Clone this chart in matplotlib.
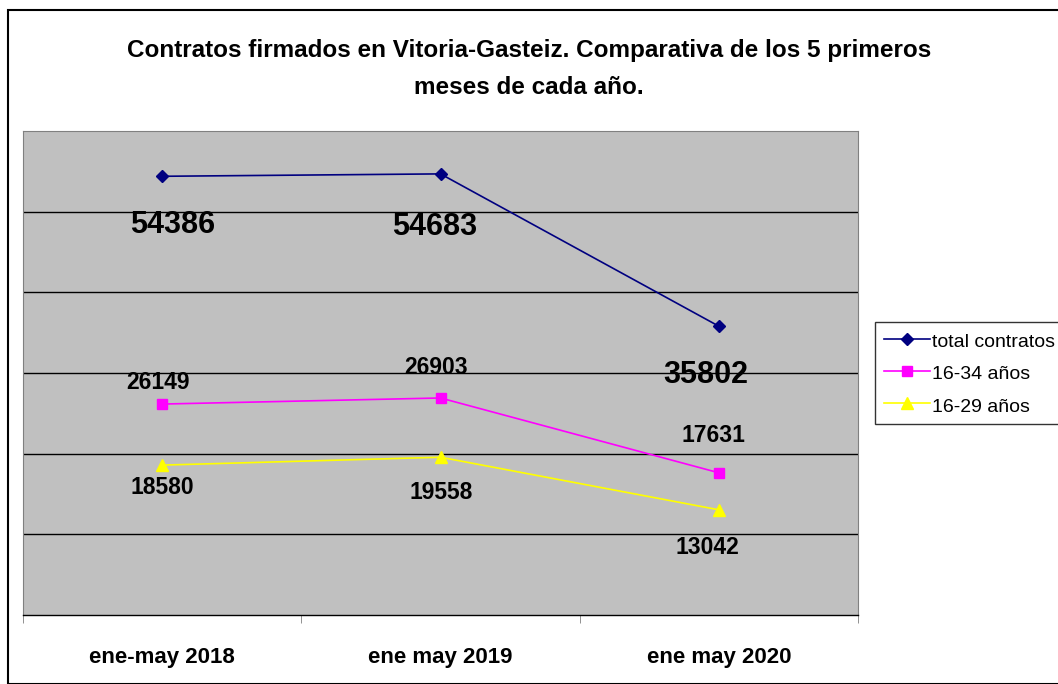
import matplotlib.pyplot as plt
from matplotlib.patches import Rectangle

periodos = ["ene-may 2018", "ene may 2019", "ene may 2020"]
total_contratos = [54386, 54683, 35802]
edad_16_34 = [26149, 26903, 17631]
edad_16_29 = [18580, 19558, 13042]

plt.rcParams['font.family'] = ['Liberation Sans', 'DejaVu Sans']

fig = plt.figure(figsize=(10.58, 6.84), dpi=100)
fig.patches.append(Rectangle((8 / 1058, 0), 1.2, 1 - 10 / 684, transform=fig.transFigure,
                             fill=False, edgecolor='black', linewidth=1.5))

ax = fig.add_axes([23 / 1058, 1 - 615 / 684, (858 - 23) / 1058, (615 - 131) / 684])
ax.set_facecolor('#C0C0C0')

x = range(len(periodos))
ax.plot(x, total_contratos, color='#000080', marker='D', markersize=6, linewidth=1.2,
        label='total contratos')
ax.plot(x, edad_16_34, color='#FF00FF', marker='s', markersize=7, linewidth=1.2,
        label='16-34 años')
ax.plot(x, edad_16_29, color='#FFFF00', marker='^', markersize=8, linewidth=1.2,
        label='16-29 años')

# etiquetas de datos (desplazamiento en pixeles)
big = [(10, -49), (-6, -53), (-13, -49)]
for i, v in enumerate(total_contratos):
    ax.annotate(str(v), (i, v), xytext=big[i], textcoords='offset pixels',
                ha='center', va='center', fontsize=22, fontweight='bold')
off34 = [(-4, 22), (-4, 30), (-5, 37)]
for i, v in enumerate(edad_16_34):
    ax.annotate(str(v), (i, v), xytext=off34[i], textcoords='offset pixels',
                ha='center', va='center', fontsize=16.5, fontweight='bold')
off29 = [(0, -22), (1, -35), (-11, -38)]
for i, v in enumerate(edad_16_29):
    ax.annotate(str(v), (i, v), xytext=off29[i], textcoords='offset pixels',
                ha='center', va='center', fontsize=16.5, fontweight='bold')

ax.set_xlim(-0.5, 2.5)
ax.set_ylim(0, 60000)
ax.set_yticks(range(10000, 60000, 10000))
ax.yaxis.grid(True, color='black', linewidth=1)
ax.tick_params(axis='y', left=False, labelleft=False)

ax.set_xticks(list(x))
ax.set_xticklabels(periodos, fontsize=16, fontweight='bold')
ax.set_xticks([-0.5, 0.5, 1.5, 2.5], minor=True)
ax.tick_params(axis='x', which='major', length=0, pad=23)
ax.tick_params(axis='x', which='minor', length=6, color='#808080', direction='out')

for s in ['left', 'top', 'right']:
    ax.spines[s].set_color('#808080')
ax.spines['bottom'].set_color('black')
ax.spines['bottom'].set_linewidth(1)

fig.text(0.5, 1 - 51 / 684, "Contratos firmados en Vitoria-Gasteiz. Comparativa de los 5 primeros",
         ha='center', va='center', fontsize=17.5, fontweight='bold')
fig.text(0.5, 1 - 87 / 684, "meses de cada año.",
         ha='center', va='center', fontsize=17.5, fontweight='bold')

leg = fig.legend(loc='upper left', bbox_to_anchor=(875 / 1058, 1 - 322 / 684),
                 fontsize=14, frameon=True, fancybox=False, edgecolor='black',
                 handlelength=2.4, borderpad=0.45, borderaxespad=0, labelspacing=0.6,
                 handletextpad=0.1, handleheight=1.2)
leg.get_frame().set_linewidth(1)

fig.savefig('out.png', dpi=100)
